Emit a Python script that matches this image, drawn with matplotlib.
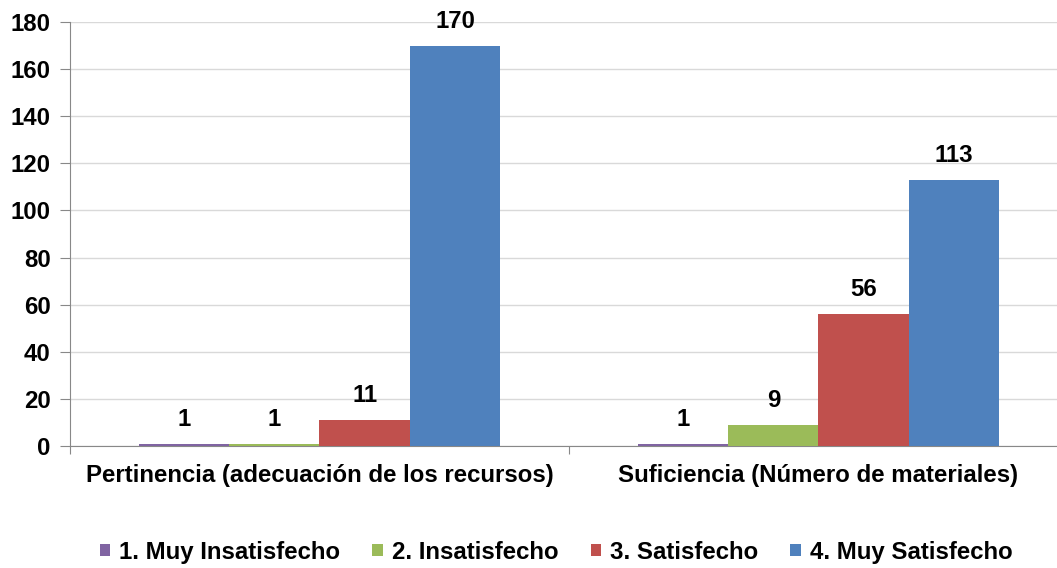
import numpy as np
import matplotlib.pyplot as plt

plt.rcParams['font.family'] = ['Liberation Sans', 'DejaVu Sans']
plt.rcParams['font.weight'] = 'bold'

categorias = ["Pertinencia (adecuación de los recursos)", "Suficiencia (Número de materiales)"]
series = ["1. Muy Insatisfecho", "2. Insatisfecho", "3. Satisfecho", "4. Muy Satisfecho"]
valores = [[1, 1], [1, 9], [11, 56], [170, 113]]
colores = ["#8064A2", "#9BBB59", "#C0504D", "#4F81BD"]

fs = 17.3

fig = plt.figure(figsize=(10.57, 5.68), dpi=100)
ax = fig.add_axes([0.0662, 0.2148, 0.9442, 0.7465])

x = np.arange(len(categorias))
w = 0.181
for i, (nombre, vals, c) in enumerate(zip(series, valores, colores)):
    pos = x + (i - 1.5) * w
    ax.bar(pos, vals, w, color=c, label=nombre, zorder=3)
    for p, v in zip(pos, vals):
        ax.text(p, v + 5.5, str(v), ha='center', va='bottom', fontsize=fs, fontweight='bold')

ax.set_xlim(-0.5, 1.5)
ax.set_ylim(0, 180)
ax.set_yticks(range(0, 181, 20))
ax.set_xticks([-0.5, 0.5, 1.5])
ax.set_xticklabels([])
ax.set_xticks(x, minor=True)
ax.set_xticklabels(categorias, minor=True, fontsize=fs, fontweight='bold')
ax.tick_params(axis='x', which='minor', length=0, pad=13)
ax.tick_params(axis='x', which='major', length=6, color='#888888')
ax.tick_params(axis='y', length=7, color='#888888', labelsize=fs, pad=7)
for lab in ax.get_yticklabels():
    lab.set_fontweight('bold')

ax.yaxis.grid(True, color='#D9D9D9', lw=1, zorder=0)
ax.spines['top'].set_visible(False)
ax.spines['right'].set_visible(False)
ax.spines['left'].set_color('#888888')
ax.spines['bottom'].set_color('#888888')

fig.legend(loc='center', bbox_to_anchor=(0.526, 0.028), ncol=4, frameon=False,
           handlelength=0.45, handleheight=0.45, handletextpad=0.35,
           columnspacing=1.35, prop={'weight': 'bold', 'size': fs})

fig.savefig("out.png", dpi=100)
